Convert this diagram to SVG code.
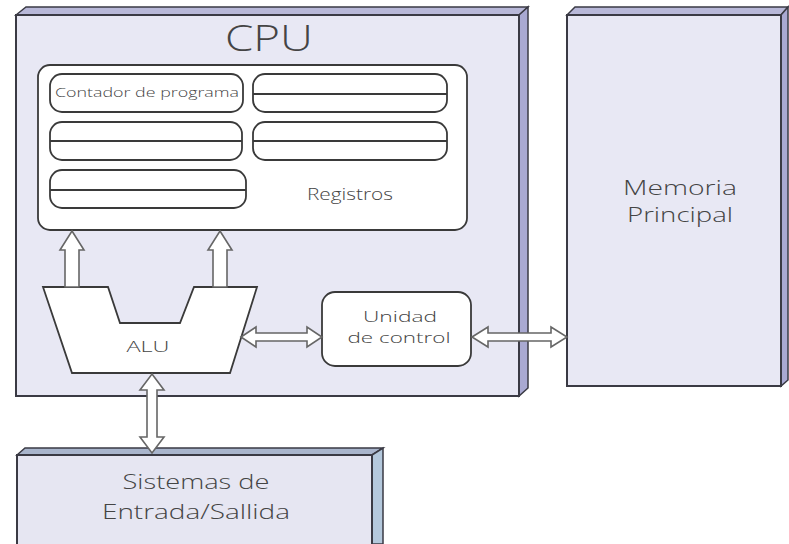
<svg xmlns="http://www.w3.org/2000/svg" width="789" height="544" viewBox="0 0 789 544">
<style>
.face{fill:#e8e8f4;stroke:#3a3a44;stroke-width:2}
.top{fill:#b8b8d8;stroke:#3a3a44;stroke-width:1.5}
.side{fill:#a9a9d2;stroke:#3a3a44;stroke-width:1.5}
.box{fill:#ffffff;stroke:#3a3a3a;stroke-width:1.8}
.pill{fill:#ffffff;stroke:#3a3a3a;stroke-width:1.8}
.ln{stroke:#3a3a3a;stroke-width:1.8}
.arr{fill:#ffffff;stroke:#666;stroke-width:1.6;stroke-linejoin:miter}
text{font-family:"Open Sans","DejaVu Sans",sans-serif;fill:#444;text-anchor:middle;font-weight:300}
</style>
<rect width="789" height="544" fill="#ffffff"/>
<g id="cpu">
<polygon class="top" points="16,15 26,7 528,7 519,15"/>
<polygon class="side" points="519,15 528,7 528,388 519,396"/>
<rect class="face" x="16" y="15" width="503" height="381"/>
<text x="269" y="51" font-size="37" textLength="88" lengthAdjust="spacingAndGlyphs">CPU</text>
</g>
<g id="memoria">
<polygon class="top" points="567,15 575,7 788,7 781,15"/>
<polygon class="side" points="781,15 788,7 788,380 781,386"/>
<rect class="face" x="567" y="15" width="214" height="371"/>
<text x="680" y="195" font-size="20" textLength="114" lengthAdjust="spacingAndGlyphs">Memoria</text>
<text x="680" y="222" font-size="20" textLength="106" lengthAdjust="spacingAndGlyphs">Principal</text>
</g>
<g id="sistemas">
<polygon points="17,455 25,448 383,448 372,455" fill="#a9b5cc" stroke="#3a3a44" stroke-width="1.5"/>
<polygon points="372,455 383,448 383,544 372,544" fill="#b4c8dc" stroke="#3a3a44" stroke-width="1.5"/>
<rect x="17" y="455" width="355" height="95" fill="#e6e6f2" stroke="#3a3a44" stroke-width="2"/>
<text x="196" y="489" font-size="21" textLength="147" lengthAdjust="spacingAndGlyphs">Sistemas de</text>
<text x="196" y="519" font-size="21" textLength="188" lengthAdjust="spacingAndGlyphs">Entrada/Sallida</text>
</g>
<g id="registros">
<rect class="box" x="38" y="65" width="429" height="165" rx="12"/>
<rect class="pill" x="50" y="74" width="193" height="38" rx="12"/>
<text x="147" y="97" font-size="13" textLength="184" lengthAdjust="spacingAndGlyphs">Contador de programa</text>
<rect class="pill" x="253" y="74" width="194" height="38" rx="12"/>
<line class="ln" x1="253" y1="94" x2="447" y2="94"/>
<rect class="pill" x="50" y="122" width="192" height="38" rx="12"/>
<line class="ln" x1="50" y1="141" x2="242" y2="141"/>
<rect class="pill" x="253" y="122" width="194" height="38" rx="12"/>
<line class="ln" x1="253" y1="141" x2="447" y2="141"/>
<rect class="pill" x="50" y="170" width="196" height="38" rx="12"/>
<line class="ln" x1="50" y1="190" x2="246" y2="190"/>
<text x="350" y="200" font-size="16" textLength="86" lengthAdjust="spacingAndGlyphs">Registros</text>
</g>
<g id="alu">
<polygon class="box" points="43,287 108,287 120,323 180,323 194,287 257,287 230,373 72,373"/>
<text x="148" y="352" font-size="15" textLength="43" lengthAdjust="spacingAndGlyphs">ALU</text>
</g>
<g id="unidad">
<rect class="box" x="322" y="292" width="149" height="74" rx="13"/>
<text x="400" y="322" font-size="15" textLength="74" lengthAdjust="spacingAndGlyphs">Unidad</text>
<text x="399" y="343" font-size="15" textLength="103" lengthAdjust="spacingAndGlyphs">de control</text>
</g>
<g id="connectors">
<polygon class="arr" points="72,231 84,250 79,250 79,287 65,287 65,250 60,250"/>
<polygon class="arr" points="220,231 232,250 227,250 227,287 213,287 213,250 208,250"/>
<polygon class="arr" points="241,337 256,327 256,333 307,333 307,327 322,337 307,347 307,341 256,341 256,347"/>
<polygon class="arr" points="472,337 488,327 488,333 551,333 551,327 567,337 551,347 551,341 488,341 488,347"/>
<polygon class="arr" points="152,374 164,390 157,390 157,437 164,437 152,453 140,437 147,437 147,390 140,390"/>
</g>
</svg>
